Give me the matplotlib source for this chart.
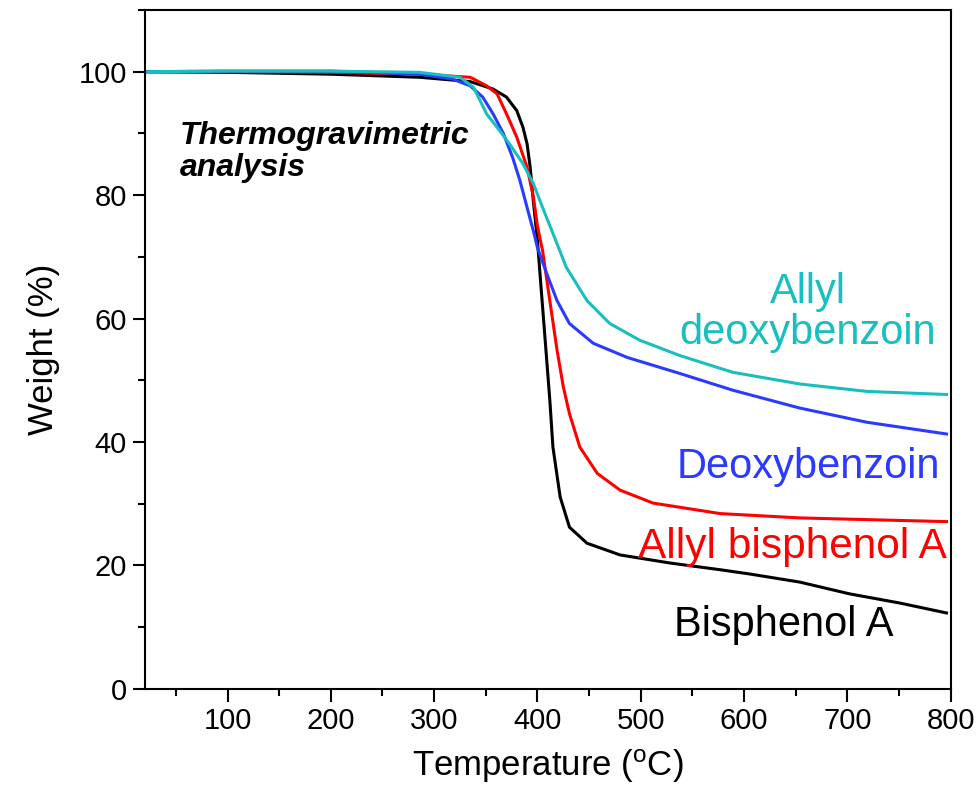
import matplotlib
matplotlib.use('Agg')
import matplotlib.pyplot as plt
import numpy as np
from matplotlib.ticker import MultipleLocator

plt.rcParams['font.family'] = ['Liberation Sans', 'DejaVu Sans']

# Bisphenol A
bpa_t = [20, 100, 200, 286, 335, 357, 370, 380, 386, 390, 393, 396, 400, 402, 407, 412, 415, 422,
         431, 448, 480, 528, 577, 606, 654, 702, 751, 796]
bpa_w = [100, 99.9, 99.6, 99.1, 98.4, 97.2, 95.9, 93.7, 91, 88.3, 84.5, 79.1, 72.7, 68.3, 57.6, 46.8,
         39.2, 31.1, 26.2, 23.6, 21.7, 20.4, 19.3, 18.6, 17.3, 15.4, 13.9, 12.3]

# Allyl bisphenol A
abpa_t = [20, 100, 200, 286, 335, 351, 361, 370, 380, 390, 396, 400, 405, 412, 419, 425, 431, 441,
          458, 480, 512, 577, 654, 796]
abpa_w = [100, 100, 99.9, 99.6, 99.1, 97.7, 96.4, 93.2, 89.4, 84.5, 79.8, 75, 71, 62.9, 54.9, 49,
          44.6, 39.2, 34.9, 32.2, 30.1, 28.4, 27.7, 27.1]

# Deoxybenzoin
dxb_t = [20, 100, 200, 286, 318, 335, 347, 357, 367, 376, 383, 390, 397, 400, 409, 419, 431, 454,
         487, 538, 589, 654, 719, 796]
dxb_w = [100, 100.1, 100.1, 99.6, 98.8, 97.7, 95.9, 93.2, 90, 86.1, 82.4, 78, 73.6, 71.5, 67.3, 62.9,
         59.2, 56, 53.7, 51.1, 48.4, 45.5, 43.2, 41.3]

# Allyl deoxybenzoin
adxb_t = [20, 100, 200, 286, 325, 338, 344, 351, 361, 373, 386, 396, 405, 415, 428, 448, 470, 499,
          538, 589, 654, 719, 796]
adxb_w = [100, 100.1, 100.1, 99.9, 99.1, 97.5, 95.5, 93.1, 91, 88.3, 85.1, 81.9, 78, 73.8, 68.3,
          62.9, 59.2, 56.5, 54, 51.3, 49.4, 48.2, 47.7]

fig = plt.figure(figsize=(9.79, 8.01), dpi=100)
ax = fig.add_axes([0.148, 0.14, 0.823, 0.8475])

ax.plot(bpa_t, bpa_w, color='black', lw=2.2)
ax.plot(abpa_t, abpa_w, color='#ff0000', lw=2.2)
ax.plot(dxb_t, dxb_w, color='#2a3aff', lw=2.2)
ax.plot(adxb_t, adxb_w, color='#17bfbf', lw=2.2)

ax.set_xlim(20, 800)
ax.set_ylim(0, 110)
ax.xaxis.set_minor_locator(MultipleLocator(50))
ax.yaxis.set_major_locator(MultipleLocator(20))
ax.yaxis.set_minor_locator(MultipleLocator(10))
ax.set_xticks([100, 200, 300, 400, 500, 600, 700, 800])
ax.tick_params(which='major', direction='out', length=9, width=1.5, labelsize=21, pad=4)
ax.tick_params(which='minor', direction='out', length=5, width=1.5)
for s in ax.spines.values():
    s.set_linewidth(1.5)

ax.set_xlabel('Temperature ($\\mathregular{^{o}}$C)', fontsize=25, labelpad=9)
ax.set_ylabel('Weight (%)', fontsize=25, labelpad=13)

ax.text(54, 87, 'Thermogravimetric\nanalysis', fontsize=23, fontweight='bold',
        fontstyle='italic', ha='left', va='center', linespacing=1.1)
ax.text(662, 61, 'Allyl\ndeoxybenzoin', color='#17bfbf', fontsize=30, ha='center', va='center', linespacing=1.05)
ax.text(790, 36, 'Deoxybenzoin', color='#2a3aff', fontsize=30, ha='right', va='center')
ax.text(796, 23, 'Allyl bisphenol A', color='#ff0000', fontsize=30.5, ha='right', va='center')
ax.text(745, 10.4, 'Bisphenol A', color='black', fontsize=30, ha='right', va='center')

fig.savefig('out.png', dpi=100)
